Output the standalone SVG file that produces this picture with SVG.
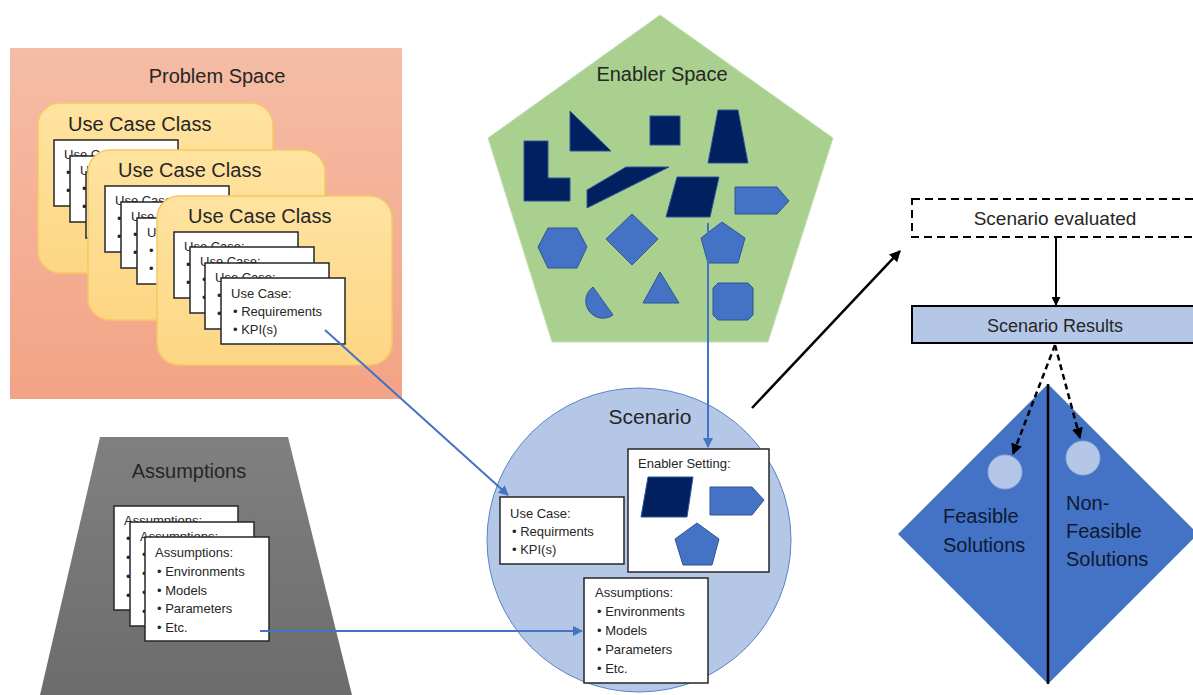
<svg xmlns="http://www.w3.org/2000/svg" width="1193" height="695" viewBox="0 0 1193 695">
<defs>
<linearGradient id="gProb" x1="0" y1="0" x2="0" y2="1"><stop offset="0" stop-color="#f5bda6"/><stop offset="1" stop-color="#f3a385"/></linearGradient>
<linearGradient id="gUcc" x1="0" y1="0" x2="0" y2="1"><stop offset="0" stop-color="#fee3a0"/><stop offset="1" stop-color="#fdd684"/></linearGradient>
<linearGradient id="gAss" x1="0" y1="0" x2="0" y2="1"><stop offset="0" stop-color="#808080"/><stop offset="1" stop-color="#6c6c6c"/></linearGradient>
<marker id="aBlue" viewBox="0 0 10 10" refX="9" refY="5" markerWidth="5" markerHeight="5" orient="auto"><path d="M0,0 L10,5 L0,10 z" fill="#4472c4"/></marker>
<marker id="aBlk" viewBox="0 0 10 10" refX="9" refY="5" markerWidth="4.5" markerHeight="4.5" orient="auto"><path d="M0,0 L10,5 L0,10 z" fill="#000"/></marker>
</defs>
<style>
text{font-family:"Liberation Sans",Arial,sans-serif;fill:#262626}
.t20{font-size:20px}
.t19{font-size:19px}
.t13{font-size:13px}
.card{fill:#fff;stroke:#262626;stroke-width:1.5}
.ucc{fill:url(#gUcc);stroke:#f8c761;stroke-width:1.5}
.dk{fill:#002060;stroke:#2f5597;stroke-width:1}
.lt{fill:#4472c4;stroke:#2f5597;stroke-width:1}
.blue{stroke:#4472c4;stroke-width:2;fill:none;marker-end:url(#aBlue)}
</style>

<g id="problem-space">
<rect x="10" y="48" width="392" height="351" fill="url(#gProb)"/>
<text class="t20" x="217" y="83" text-anchor="middle">Problem Space</text>
</g>

<g id="use-case-class-1">
<rect class="ucc" x="38" y="103" width="235" height="170" rx="22"/>
<text class="t20" x="68" y="131">Use Case Class</text>
<g class="t13">
<rect class="card" x="54" y="140" width="124" height="66"/><text x="64" y="159">Use Case:</text><text x="66" y="177">•</text><text x="66" y="195">•</text>
<rect class="card" x="70" y="156" width="124" height="66"/><text x="80" y="175">U</text><text x="82" y="193">•</text><text x="82" y="211">•</text>
<rect class="card" x="86" y="172" width="124" height="66"/><text x="98" y="209">•</text><text x="98" y="227">•</text>
</g>
</g>

<g id="use-case-class-2">
<rect class="ucc" x="88" y="150" width="237" height="170" rx="22"/>
<text class="t20" x="118" y="177">Use Case Class</text>
<g class="t13">
<rect class="card" x="105" y="186" width="124" height="66"/><text x="115" y="205">Use Case:</text><text x="117" y="223">•</text><text x="117" y="241">•</text>
<rect class="card" x="121" y="202" width="124" height="66"/><text x="131" y="221">Use Case:</text><text x="133" y="239">•</text><text x="133" y="257">•</text>
<rect class="card" x="137" y="218" width="124" height="66"/><text x="147" y="237">Use Case:</text><text x="149" y="255">•</text><text x="149" y="273">•</text>
</g>
</g>

<g id="use-case-class-3">
<rect class="ucc" x="157" y="196" width="235" height="169" rx="22"/>
<text class="t20" x="188" y="223">Use Case Class</text>
<g class="t13">
<rect class="card" x="174" y="232" width="124" height="66"/><text x="184" y="251">Use Case:</text><text x="186" y="269">•</text><text x="186" y="287">•</text>
<rect class="card" x="190" y="247" width="124" height="66"/><text x="200" y="266">Use Case:</text><text x="202" y="284">•</text><text x="202" y="302">•</text>
<rect class="card" x="205" y="263" width="124" height="66"/><text x="215" y="282">Use Case:</text><text x="217" y="300">•</text><text x="217" y="318">•</text>
<rect class="card" x="221" y="278" width="124" height="66"/><text x="231" y="298">Use Case:</text><text x="233" y="316">• Requirements</text><text x="233" y="334">• KPI(s)</text>
</g>
</g>

<g id="enabler-space">
<polygon points="660,15 833,138 768,342 552,342 488,138" fill="#a9d08e" stroke="#c5e0b4" stroke-width="1"/>
<text class="t20" x="662" y="81" text-anchor="middle">Enabler Space</text>
<polygon class="dk" points="524,141 548,141 548,178 570,178 570,201 524,201"/>
<polygon class="dk" points="570,111 570,151 611,151"/>
<rect class="dk" x="650" y="116" width="30" height="29"/>
<polygon class="dk" points="718,110 738,110 748,163 708,163"/>
<polygon class="dk" points="587,190 626,167 669,167 587,208"/>
<polygon class="dk" points="677,177 719,177 710,217 666,217"/>
<polygon class="lt" points="735,187 777,187 789,201 777,214 735,214"/>
<polygon class="lt" points="538,247 548,228 577,228 587,247 577,268 548,268"/>
<polygon class="lt" points="632,214 658,239 632,265 606,239"/>
<polygon class="lt" points="701,238 722,222 745,238 738,263 708,263"/>
<path class="lt" d="M593,287 A17,17 0 1 0 613,315 Z"/>
<polygon class="lt" points="643,303 660,272 679,303"/>
<polygon class="lt" points="718,283 748,283 753,288 753,315 748,320 718,320 713,315 713,288"/>
</g>

<g id="assumptions-space">
<polygon points="100,437 288,437 352,695 40,695" fill="url(#gAss)"/>
<text class="t20" x="189" y="478" text-anchor="middle">Assumptions</text>
<g class="t13">
<rect class="card" x="114" y="506" width="124" height="104"/><text x="124" y="525">Assumptions:</text><text x="126" y="543">•</text><text x="126" y="562">•</text><text x="126" y="581">•</text><text x="126" y="600">•</text>
<rect class="card" x="130" y="522" width="124" height="104"/><text x="140" y="541">Assumptions:</text><text x="142" y="559">•</text><text x="142" y="578">•</text><text x="142" y="597">•</text><text x="142" y="616">•</text>
<rect class="card" x="145" y="537" width="124" height="104"/><text x="155" y="557">Assumptions:</text><text x="157" y="576">• Environments</text><text x="157" y="595">• Models</text><text x="157" y="613">• Parameters</text><text x="157" y="632">• Etc.</text>
</g>
</g>

<g id="scenario">
<circle cx="639" cy="540" r="152" fill="#b4c7e7" stroke="#5b83c9" stroke-width="1"/>
<text class="t20" x="650" y="424" text-anchor="middle" style="font-size:21px">Scenario</text>
<g class="t13">
<rect class="card" x="628" y="449" width="141" height="123"/>
<text x="638" y="468">Enabler Setting:</text>
<polygon class="dk" points="648,477 693,477 687,517 641,517"/>
<polygon class="lt" points="710,487 752,487 764,500 752,515 710,515"/>
<polygon class="lt" points="697,523 719,539 712,565 683,565 675,539"/>
<rect class="card" x="500" y="497" width="124" height="67"/>
<text x="510" y="518">Use Case:</text><text x="512" y="536">• Requirments</text><text x="512" y="554">• KPI(s)</text>
<rect class="card" x="584" y="578" width="124" height="105"/>
<text x="595" y="597">Assumptions:</text><text x="597" y="616">• Environments</text><text x="597" y="635">• Models</text><text x="597" y="654">• Parameters</text><text x="597" y="673">• Etc.</text>
</g>
</g>

<g id="scenario-evaluated">
<rect x="912" y="199" width="290" height="38" fill="#fff" stroke="#000" stroke-width="2" stroke-dasharray="8,5"/>
<text class="t19" x="1055" y="225" text-anchor="middle">Scenario evaluated</text>
</g>

<g id="scenario-results">
<rect x="912" y="306" width="290" height="37" fill="#b4c7e7" stroke="#000" stroke-width="2"/>
<text class="t19" x="1055" y="332" text-anchor="middle" style="font-size:18px">Scenario Results</text>
</g>

<g id="solutions">
<polygon points="1048,384 1198,534 1048,684 898,534" fill="#4472c4"/>
<line x1="1048" y1="384" x2="1048" y2="684" stroke="#000" stroke-width="2.5"/>
<circle cx="1005" cy="472" r="17" fill="#b4c7e7" stroke="#8faadc" stroke-width="1"/>
<circle cx="1083" cy="458" r="17" fill="#b4c7e7" stroke="#8faadc" stroke-width="1"/>
<text class="t20" x="943" y="523" style="fill:#0d1a33">Feasible</text>
<text class="t20" x="943" y="552" style="fill:#0d1a33">Solutions</text>
<text class="t20" x="1066" y="510" style="fill:#0d1a33">Non-</text>
<text class="t20" x="1066" y="538" style="fill:#0d1a33">Feasible</text>
<text class="t20" x="1066" y="566" style="fill:#0d1a33">Solutions</text>
</g>

<g id="connectors">
<line class="blue" x1="325" y1="330" x2="508" y2="495"/>
<line class="blue" x1="260" y1="631" x2="582" y2="631"/>
<line class="blue" x1="708" y1="223" x2="708" y2="447"/>
<line x1="752" y1="408" x2="900" y2="251" stroke="#000" stroke-width="2.5" marker-end="url(#aBlk)"/>
<line x1="1056" y1="237" x2="1056" y2="305" stroke="#000" stroke-width="2" marker-end="url(#aBlk)"/>
<line x1="1055" y1="345" x2="1013" y2="454" stroke="#000" stroke-width="2.5" stroke-dasharray="6,4" marker-end="url(#aBlk)"/>
<line x1="1055" y1="345" x2="1080" y2="438" stroke="#000" stroke-width="2.5" stroke-dasharray="6,4" marker-end="url(#aBlk)"/>
</g>
</svg>
